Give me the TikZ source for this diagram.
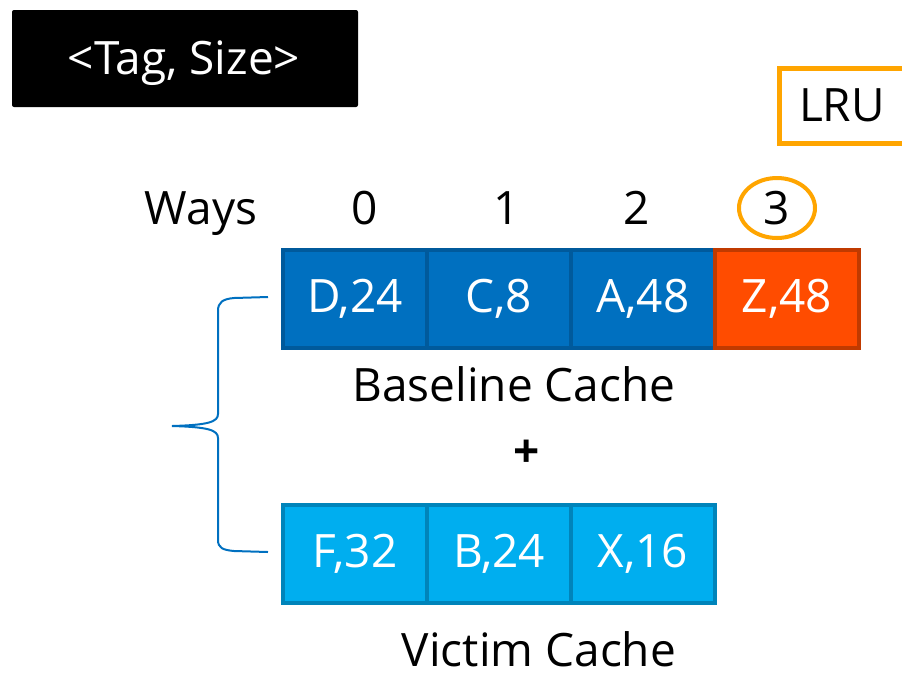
\documentclass[tikz,border=0pt]{standalone}
\usepackage{fontspec}
\setmainfont{Open Sans}
\definecolor{baseBlue}{HTML}{0070C0}
\definecolor{baseEdge}{HTML}{005A9C}
\definecolor{lruRed}{HTML}{FF4C00}
\definecolor{lruEdge}{HTML}{C03A00}
\definecolor{victimBlue}{HTML}{00AEEF}
\definecolor{victimEdge}{HTML}{0084BA}
\definecolor{lruOrange}{HTML}{FFA500}
\usetikzlibrary{positioning, shapes.geometric}

\begin{document}
\begin{tikzpicture}[
    x=0.5pt, y=-0.5pt,
    label/.style={font=\fontsize{23}{27}\selectfont, inner sep=0pt, anchor=base},
    way/.style={rectangle, draw=baseEdge, fill=baseBlue, line width=2pt,
                outer sep=0pt, minimum width=72pt, minimum height=49pt,
                text=white, font=\fontsize{23}{27}\selectfont},
    lruway/.style={way, draw=lruEdge, fill=lruRed},
    victimway/.style={way, draw=victimEdge, fill=victimBlue}
  ]
    \useasboundingbox (0,0) rectangle (902,677);
    \fill[black, rounded corners=1pt] (12,10) rectangle (358,107);
    \node[label, text=white] (key) at (184,74) {<Tag, Size>};
    \draw[lruOrange, line width=2.5pt] (940,68) -- (779,68) -- (779,143) -- (940,143);
    \node[label] (lrutag) at (842,121) {LRU};

    % ways of the baseline cache
    \node[label] (ways) at (201,224) {Ways};
    \node[label] (w0) at (365,224) {0};
    \node[label] (w1) at (507,224) {1};
    \node[label] (w2) at (637,224) {2};
    \node[label] (w3) at (777,224) {3};
    \node[ellipse, draw=lruOrange, line width=2pt, inner sep=0pt,
          minimum width=38pt, minimum height=30pt] (lrumark) at (777,208) {};

    \node[way] (d) at (355,298.5) {D,24};
    \node[way, right=0pt of d] (c) {C,8};
    \node[way, right=0pt of c] (a) {A,48};
    \node[lruway, right=0pt of a] (z) {Z,48};
    \node[label] (basename) at (514,401) {Baseline Cache};
    \node[font=\fontsize{23}{27}\selectfont\bfseries, inner sep=0pt] (plus) at (527,454) {+};

    % victim cache
    \node[victimway] (f) at (355,553.5) {F,32};
    \node[victimway, right=0pt of f] (b) {B,24};
    \node[victimway, right=0pt of b] (x) {X,16};
    \node[label] (victimname) at (539,666) {Victim Cache};

    % brace round both caches
    \coordinate (bt) at (268,297);
    \coordinate (bb) at (268,552);
    \draw[baseBlue, line width=1pt]
      (bt) -- (234,298) .. controls (223,299) and (218,302) .. (218,311)
      -- (218,414) .. controls (218,422) and (208,425) .. (172,426)
      .. controls (208,427) and (218,430) .. (218,438)
      -- (218,540) .. controls (218,548) and (223,550) .. (234,551) -- (bb);
\end{tikzpicture}
\end{document}
